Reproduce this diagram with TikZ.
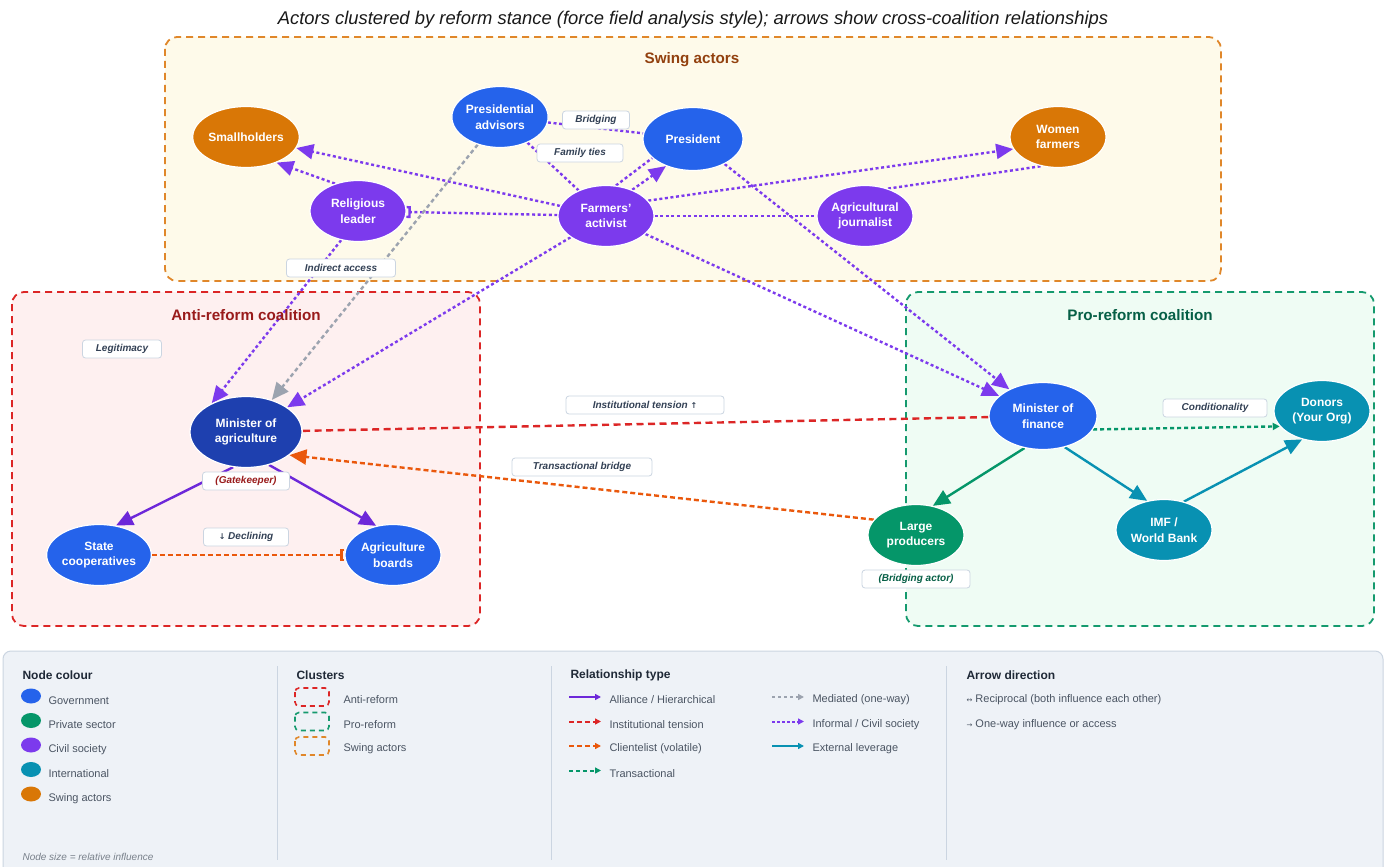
\documentclass[tikz,border=0pt]{standalone}
\usepackage{fontspec}
\setmainfont{Liberation Sans}
\usetikzlibrary{shapes.geometric,arrows.meta}
\pgfdeclarelayer{bg}
\pgfdeclarelayer{edges}
\pgfsetlayers{bg,edges,main}

% actor categories
\definecolor{gov}{HTML}{2563EB}
\definecolor{govdark}{HTML}{1E40AF}
\definecolor{priv}{HTML}{059669}
\definecolor{civ}{HTML}{7C3AED}
\definecolor{intl}{HTML}{0891B2}
\definecolor{swing}{HTML}{D97706}
% relationship colours
\definecolor{alli}{HTML}{6D28D9}
\definecolor{tens}{HTML}{DC2626}
\definecolor{clie}{HTML}{EA580C}
\definecolor{medi}{HTML}{9CA3AF}
% cluster frames
\definecolor{swingB}{HTML}{E0872A}
\definecolor{swingF}{HTML}{FEFAEA}
\definecolor{swingT}{HTML}{92400E}
\definecolor{antiB}{HTML}{DC2626}
\definecolor{antiF}{HTML}{FEF0F0}
\definecolor{antiT}{HTML}{991B1B}
\definecolor{proB}{HTML}{159A6E}
\definecolor{proF}{HTML}{EFFCF4}
\definecolor{proT}{HTML}{065F46}
% labels and legend
\definecolor{lblB}{HTML}{CBD5E1}
\definecolor{lblT}{HTML}{334155}
\definecolor{legF}{HTML}{EEF2F7}
\definecolor{legB}{HTML}{CBD5E1}
\definecolor{legH}{HTML}{1F2937}
\definecolor{legT}{HTML}{4B5563}

\begin{document}
\begin{tikzpicture}[x=1pt,y=-1pt,
  actor/.style={ellipse, draw=white, line width=1.2pt, text=white, align=center,
    inner sep=0pt, minimum width=96pt, minimum height=61pt,
    font=\bfseries\fontsize{12}{15.5}\selectfont},
  cluster/.style={line width=1.8pt, dash pattern=on 7pt off 5pt, rounded corners=12pt},
  ctitle/.style={font=\bfseries\fontsize{15.2}{17}\selectfont},
  elabel/.style={fill=white, draw=lblB, line width=0.8pt, rounded corners=3pt,
    text=lblT, minimum height=18pt, inner ysep=0pt,
    font=\bfseries\itshape\fontsize{10}{12}\selectfont},
  bigtip/.style={-{Triangle[length=17pt,width=15pt]}},
  brtip/.style={-{Bracket[reversed,width=12pt,length=3pt]}},
  relinformal/.style={draw=civ, line width=2.4pt, dash pattern=on 3pt off 2.6pt},
  relmediated/.style={draw=medi, line width=2.4pt, dash pattern=on 4pt off 3pt},
  reltension/.style={draw=tens, line width=2.4pt, dash pattern=on 7pt off 4.5pt},
  relclient/.style={draw=clie, line width=2.4pt, dash pattern=on 5pt off 3pt},
  reltrans/.style={draw=priv, line width=2.4pt, dash pattern=on 4pt off 3pt},
  relalliance/.style={draw=alli, line width=2.4pt},
  relexternal/.style={draw=intl, line width=2.4pt},
  legh/.style={anchor=west, text=legH, font=\bfseries\fontsize{12}{14}\selectfont},
  legt/.style={anchor=west, text=legT, font=\fontsize{11}{13}\selectfont},
  legtip/.style={-{Triangle[length=6pt,width=6pt]}},
]
\useasboundingbox (0,0) rectangle (1387,867);

\node[font=\itshape\fontsize{18.4}{22}\selectfont, text=black!90] (title) at (693,20)
  {Actors clustered by reform stance (force field analysis style); arrows show cross-coalition relationships};

% ---------- page and coalition frames ----------
\begin{pgfonlayer}{bg}
\fill[white] (0,0) rectangle (1387,867);
\draw[cluster, draw=swingB, fill=swingF] (165,37) rectangle (1221,281);
\draw[cluster, draw=antiB, fill=antiF] (12,292) rectangle (480,626);
\draw[cluster, draw=proB, fill=proF] (906,292) rectangle (1374,626);
\end{pgfonlayer}
\node[ctitle, text=swingT] (tswing) at (692,60) {Swing actors};
\node[ctitle, text=antiT] (tanti) at (246,315) {Anti-reform coalition};
\node[ctitle, text=proT] (tpro) at (1140,315) {Pro-reform coalition};

% ---------- actors ----------
\node[actor, fill=swing] (sh) at (246,137) {Smallholders};
\node[actor, fill=gov] (pa) at (500,117) {Presidential\\advisors};
\node[actor, fill=gov, minimum width=100pt, minimum height=63pt] (pr) at (693,139) {President};
\node[actor, fill=swing] (wf) at (1058,137) {Women\\farmers};
\node[actor, fill=civ] (rl) at (358,211) {Religious\\leader};
\node[actor, fill=civ] (fa) at (606,216) {Farmers\char39\\activist};
\node[actor, fill=civ] (aj) at (865,216) {Agricultural\\journalist};
\node[actor, fill=govdark, minimum width=112pt, minimum height=71pt] (ma) at (246,432) {Minister of\\agriculture};
\node[actor, fill=gov] (sc) at (99,555) {State\\cooperatives};
\node[actor, fill=gov] (ab) at (393,555) {Agriculture\\boards};
\node[actor, fill=gov, minimum width=108pt, minimum height=67pt] (mf) at (1043,416) {Minister of\\finance};
\node[actor, fill=intl] (do) at (1322,411) {Donors\\(Your Org)};
\node[actor, fill=priv] (lp) at (916,535) {Large\\producers};
\node[actor, fill=intl] (imf) at (1164,530) {IMF /\\World Bank};

% ---------- relationships ----------
\begin{pgfonlayer}{edges}
\draw[relinformal, bigtip] (fa) -- (sh);
\draw[relinformal, bigtip] (rl.130) -- (sh.-40);
\draw[relinformal, brtip] (fa) -- (rl);
\draw[relinformal] (pa) -- (pr);
\draw[relinformal] (pa) -- (fa);
\draw[relinformal] (fa.72) -- (pr.205);
\draw[relinformal, bigtip] (fa.45) -- (pr.225);
\draw[relinformal, bigtip] (fa.20) -- (wf.195);
\draw[relinformal] (aj.50) -- (wf.240);
\draw[relinformal] (fa) -- (aj);
\draw[relinformal, bigtip] (pr) -- (mf);
\draw[relinformal, bigtip] (fa) -- (mf);
\draw[relmediated, bigtip] (pa) -- (ma);
\draw[relinformal, bigtip] (rl.240) -- (ma.140);
\draw[relinformal, bigtip] (fa) -- (ma);
\draw[reltension] (mf) -- (ma);
\draw[relclient, bigtip] (lp.160) -- (ma.-28);
\draw[relalliance, bigtip] (ma.250) -- (sc.60);
\draw[relalliance, bigtip] (ma.-55) -- (ab.120);
\draw[relclient, brtip] (sc) -- (ab);
\draw[draw=priv, line width=2.4pt, bigtip] (mf.240) -- (lp.60);
\draw[relexternal, bigtip] (mf.-55) -- (imf.120);
\draw[relexternal, bigtip] (imf.55) -- (do.235);
\draw[reltrans, -{Triangle[length=7pt,width=7pt]}] (mf.-15) -- (do.200);
\end{pgfonlayer}

% ---------- relationship labels ----------
\node[elabel, minimum width=67pt] (l1) at (596,120) {Bridging};
\node[elabel, minimum width=86pt] (l2) at (580,153) {Family ties};
\node[elabel, minimum width=109pt] (l3) at (341,268) {Indirect access};
\node[elabel, minimum width=79pt] (l4) at (122,349) {Legitimacy};
\node[elabel, minimum width=87pt, text=antiT] (l5) at (246,481) {(Gatekeeper)};
\node[elabel, minimum width=85pt] (l6) at (246,537) {{\fontspec{DejaVu Sans}\fontsize{8}{10}\selectfont↓}\ Declining};
\node[elabel, minimum width=158pt] (l7) at (645,405) {Institutional tension {\fontspec{DejaVu Sans}\fontsize{8}{10}\selectfont↑}};
\node[elabel, minimum width=140pt] (l8) at (582,467) {Transactional bridge};
\node[elabel, minimum width=104pt] (l9) at (1215,408) {Conditionality};
\node[elabel, minimum width=108pt, text=proT] (l10) at (916,579) {(Bridging actor)};

% ---------- legend ----------
\draw[fill=legF, draw=legB, line width=1pt, rounded corners=8pt] (3,651) rectangle (1383,890);
\draw[legB, line width=0.8pt] (277,666) -- (277,860);
\draw[legB, line width=0.8pt] (551,666) -- (551,860);
\draw[legB, line width=0.8pt] (946,666) -- (946,860);

\node[legh] (hn) at (19,675) {Node colour};
\foreach \c/\t/\y [count=\i] in {gov/Government/696, priv/Private sector/720.5, civ/Civil society/745, intl/International/769.5, swing/Swing actors/794}{
  \fill[\c] (31,\y) ellipse (10pt and 7.5pt);
  \node[legt] (nc\i) at (45,\y+4.5) {\t};
}
\node[anchor=west, text=legT!75, font=\itshape\fontsize{10}{12}\selectfont] (ns) at (19,857) {Node size = relative influence};

\node[legh] (hc) at (293,675) {Clusters};
\foreach \c/\t/\y [count=\i] in {antiB/Anti-reform/697, proB/Pro-reform/721.5, swingB/Swing actors/746}{
  \draw[\c, line width=1.6pt, dash pattern=on 5pt off 4pt, rounded corners=4pt] (295,\y-9) rectangle (329,\y+9);
  \node[legt] (cl\i) at (340,\y+3) {\t};
}

\node[legh] (hr) at (567,675) {Relationship type};
\draw[alli, line width=2pt, legtip] (569,697) -- (601,697);
\node[legt] (r1) at (606,700) {Alliance / Hierarchical};
\draw[tens, line width=2pt, dash pattern=on 5pt off 3pt, legtip] (569,721.5) -- (601,721.5);
\node[legt] (r2) at (606,724.5) {Institutional tension};
\draw[clie, line width=2pt, dash pattern=on 5pt off 3pt, legtip] (569,746) -- (601,746);
\node[legt] (r3) at (606,749) {Clientelist (volatile)};
\draw[priv, line width=2pt, dash pattern=on 4pt off 3pt, legtip] (569,770.5) -- (601,770.5);
\node[legt] (r4) at (606,773.5) {Transactional};
\draw[medi, line width=2pt, dash pattern=on 3pt off 3pt, legtip] (772,697) -- (804,697);
\node[legt] (r5) at (809,700) {Mediated (one-way)};
\draw[civ, line width=2pt, dash pattern=on 3pt off 2pt, legtip] (772,721.5) -- (804,721.5);
\node[legt] (r6) at (809,724.5) {Informal / Civil society};
\draw[intl, line width=2pt, legtip] (772,746) -- (804,746);
\node[legt] (r7) at (809,749) {External leverage};

\node[legh] (ha) at (963,675) {Arrow direction};
\node[legt] (a1) at (963,700) {{\fontspec{DejaVu Sans}\fontsize{7}{9}\selectfont↔} Reciprocal (both influence each other)};
\node[legt] (a2) at (963,725) {{\fontspec{DejaVu Sans}\fontsize{7}{9}\selectfont→} One-way influence or access};
\end{tikzpicture}
\end{document}
